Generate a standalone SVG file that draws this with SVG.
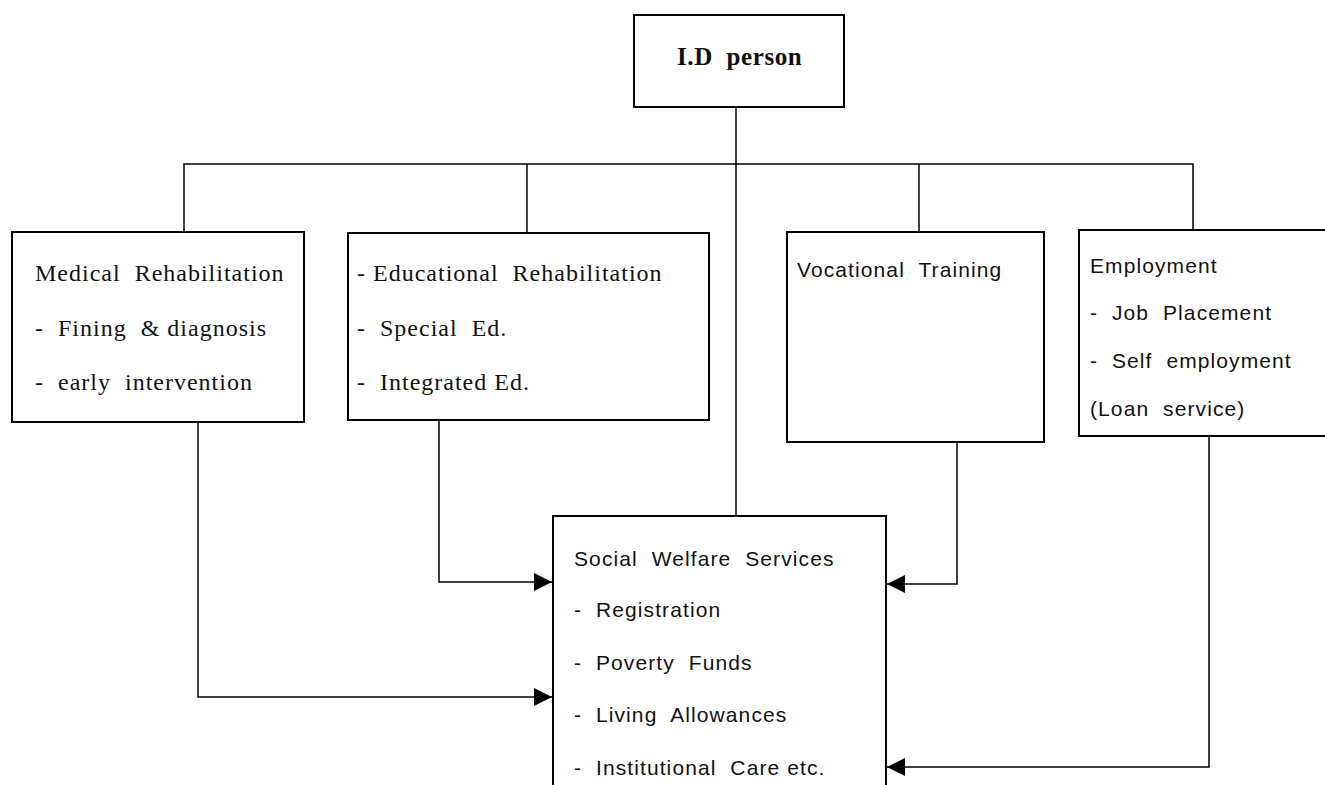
<svg xmlns="http://www.w3.org/2000/svg" width="1325" height="785" viewBox="0 0 1325 785">
<defs>
<marker id="arr" markerWidth="18" markerHeight="18" refX="18" refY="9" orient="auto" markerUnits="userSpaceOnUse">
<path d="M0,0 L18,9 L0,18 Z" fill="#000"/>
</marker>
<style>
.box{fill:#fff;stroke:#000;stroke-width:2}
.ln{fill:none;stroke:#000;stroke-width:1.5}
.serif{font-family:"Liberation Serif","Times New Roman",serif;font-size:24px;fill:#111;letter-spacing:1px}
.sans{font-family:"Liberation Sans",Arial,sans-serif;font-size:21px;fill:#111;letter-spacing:1.1px}
.title{font-family:"Liberation Serif","Times New Roman",serif;font-size:25px;font-weight:bold;fill:#111;letter-spacing:0.6px}
</style>
</defs>
<rect width="1325" height="785" fill="#fff"/>
<g id="connectors">
<path class="ln" d="M736,107 V516"/>
<path class="ln" d="M184,233 V164 H1193 V230"/>
<path class="ln" d="M527,164 V233"/>
<path class="ln" d="M919,164 V232"/>
<path class="ln" d="M198,423 V697 H552" marker-end="url(#arr)"/>
<path class="ln" d="M439,420 V582 H552" marker-end="url(#arr)"/>
<path class="ln" d="M957,442 V584 H887" marker-end="url(#arr)"/>
<path class="ln" d="M1209,436 V767 H887" marker-end="url(#arr)"/>
</g>
<g id="id-person">
<rect class="box" x="634" y="15" width="210" height="92"/>
<text class="title" x="677" y="65" xml:space="preserve">I.D  person</text>
</g>
<g id="medical">
<rect class="box" x="12" y="232" width="292" height="190"/>
<text class="serif" x="35" y="281" xml:space="preserve">Medical  Rehabilitation</text>
<text class="serif" x="35" y="336" xml:space="preserve">-  Fining  &amp; diagnosis</text>
<text class="serif" x="35" y="390" xml:space="preserve">-  early  intervention</text>
</g>
<g id="educational">
<rect class="box" x="348" y="233" width="361" height="187"/>
<text class="serif" x="357" y="281" xml:space="preserve">- Educational  Rehabilitation</text>
<text class="serif" x="357" y="336" xml:space="preserve">-  Special  Ed.</text>
<text class="serif" x="357" y="390" xml:space="preserve">-  Integrated Ed.</text>
</g>
<g id="vocational">
<rect class="box" x="787" y="232" width="257" height="210"/>
<text class="sans" x="797" y="277" xml:space="preserve">Vocational  Training</text>
</g>
<g id="employment">
<rect class="box" x="1079" y="230" width="250" height="206"/>
<text class="sans" x="1090" y="273">Employment</text>
<text class="sans" x="1090" y="320" xml:space="preserve">-  Job  Placement</text>
<text class="sans" x="1090" y="368" xml:space="preserve">-  Self  employment</text>
<text class="sans" x="1090" y="416" xml:space="preserve">(Loan  service)</text>
</g>
<g id="social-welfare">
<path class="box" d="M553,790 V516 H886 V790"/>
<text class="sans" x="574" y="566" xml:space="preserve">Social  Welfare  Services</text>
<text class="sans" x="574" y="617" xml:space="preserve">-  Registration</text>
<text class="sans" x="574" y="670" xml:space="preserve">-  Poverty  Funds</text>
<text class="sans" x="574" y="722" xml:space="preserve">-  Living  Allowances</text>
<text class="sans" x="574" y="775" xml:space="preserve">-  Institutional  Care etc.</text>
</g>
</svg>
